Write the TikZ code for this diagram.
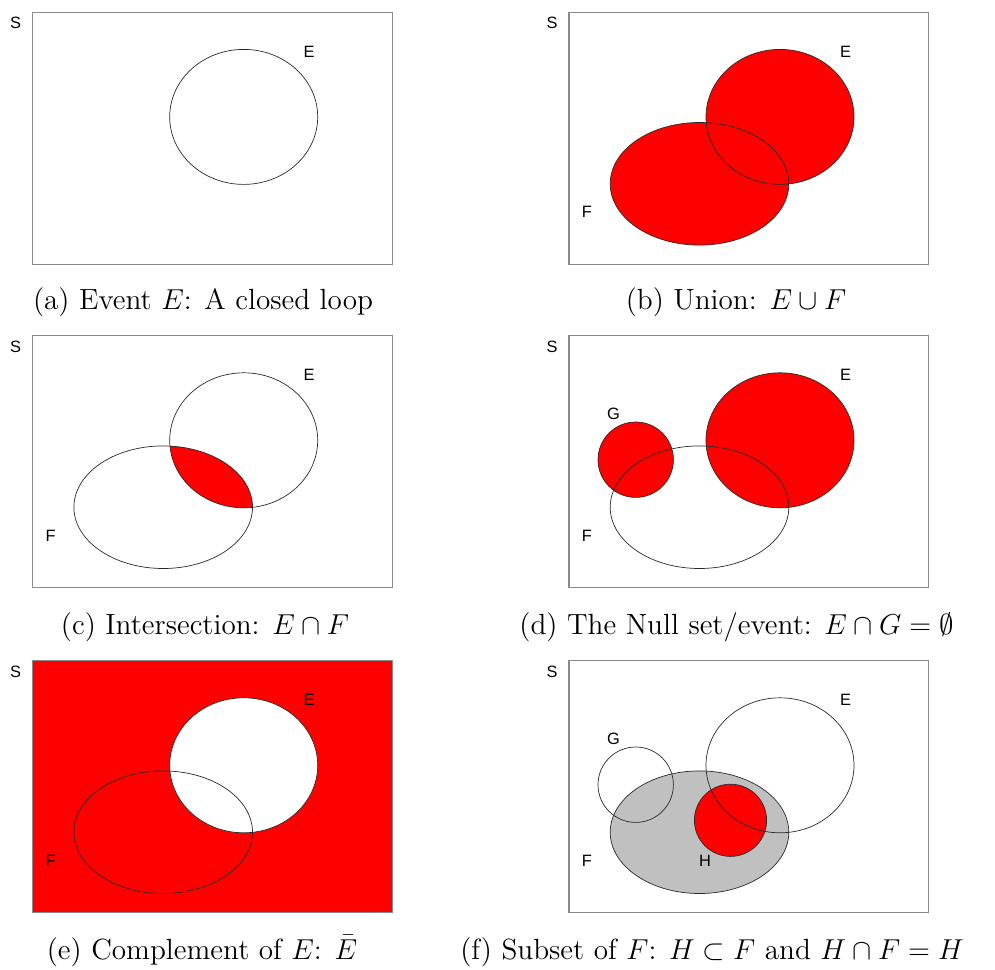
\documentclass[tikz,border=0pt]{standalone}
\usepackage{fontspec}
\usepackage{amsmath,amssymb}
\usepackage{xcolor}
\usepackage{tikz}
\newfontfamily\labelfont{Liberation Sans}
\definecolor{setred}{HTML}{FF0000}
\definecolor{silverfill}{HTML}{C0C0C0}
\definecolor{framegray}{HTML}{8A8A8A}
\definecolor{loopink}{HTML}{2A2A2A}
% event shapes, in panel coordinates (origin = top left corner of S)
\newcommand{\shapeS}{(0,0) rectangle (359.5,252)}
\newcommand{\shapeE}{(211,104.6) ellipse [x radius=74, y radius=67.5]}
\newcommand{\shapeF}{(130.5,171.5) ellipse [x radius=89.3, y radius=61.3]}
\newcommand{\shapeG}{(66.7,124) circle [radius=37.7]}
\newcommand{\shapeH}{(161.5,159.6) circle [radius=36.1]}
\tikzset{
  samplespace/.style={draw=framegray, line width=0.6pt},
  eventline/.style={draw=loopink, line width=0.35pt},
  eventfill/.style={fill=setred},
  subsetfill/.style={fill=silverfill},
  setlabel/.style={font=\labelfont\fontsize{8.2}{9}\selectfont, text=black, inner sep=0pt},
  subcap/.style={font=\fontsize{14.6}{17}\selectfont, text=black, inner sep=0pt, anchor=base}
}

\begin{document}
\begin{tikzpicture}[x=0.5pt, y=-0.5pt]
  \useasboundingbox (0,0) rectangle (995,969);

  % (a) event E
  \begin{scope}[shift={(32.7,12.3)}]
    \draw[eventline] \shapeE;
    \draw[samplespace] \shapeS;
    \node[setlabel] (Sa) at (-17,11) {S};
    \node[setlabel] (Ea) at (276.5,39.5) {E};
  \end{scope}
  \node[subcap] (capa) at (203,309) {(a) Event $E$: A closed loop};

  % (b) union
  \begin{scope}[shift={(569,12.3)}]
    \fill[eventfill] \shapeE;
    \fill[eventfill] \shapeF;
    \draw[eventline] \shapeE;
    \draw[eventline] \shapeF;
    \draw[samplespace] \shapeS;
    \node[setlabel] (Sb) at (-17,11) {S};
    \node[setlabel] (Eb) at (276.5,39.5) {E};
    \node[setlabel] (Fb) at (18,200) {F};
  \end{scope}
  \node[subcap] (capb) at (736,309) {(b) Union: $E\cup F$};

  % (c) intersection
  \begin{scope}[shift={(32.7,335.7)}]
    \begin{scope}
      \clip \shapeE;
      \fill[eventfill] \shapeF;
    \end{scope}
    \draw[eventline] \shapeE;
    \draw[eventline] \shapeF;
    \draw[samplespace] \shapeS;
    \node[setlabel] (Sc) at (-17,11) {S};
    \node[setlabel] (Ec) at (276.5,39.5) {E};
    \node[setlabel] (Fc) at (18,200) {F};
  \end{scope}
  \node[subcap] (capc) at (205,634) {(c) Intersection: $E\cap F$};

  % (d) null set
  \begin{scope}[shift={(569,335.7)}]
    \fill[eventfill] \shapeE;
    \fill[eventfill] \shapeG;
    \draw[eventline] \shapeE;
    \draw[eventline] \shapeG;
    \draw[eventline] \shapeF;
    \draw[samplespace] \shapeS;
    \node[setlabel] (Sd) at (-17,11) {S};
    \node[setlabel] (Ed) at (276.5,39.5) {E};
    \node[setlabel] (Fd) at (18,200) {F};
    \node[setlabel] (Gd) at (44.5,78) {G};
  \end{scope}
  \node[subcap] (capd) at (736.5,634) {(d) The Null set/event: $E\cap G=\emptyset$};

  % (e) complement
  \begin{scope}[shift={(32.7,660.7)}]
    \fill[eventfill] \shapeS;
    \fill[white] \shapeE;
    \draw[eventline] \shapeE;
    \draw[eventline] \shapeF;
    \draw[samplespace] \shapeS;
    \node[setlabel] (Se) at (-17,11) {S};
    \node[setlabel] (Ee) at (276.5,39.5) {E};
    \node[setlabel] (Fe) at (18,200) {F};
  \end{scope}
  \node[subcap] (cape) at (202,959) {(e) Complement of $E$: $\bar{E}$};

  % (f) subset
  \begin{scope}[shift={(569,660.7)}]
    \fill[subsetfill] \shapeF;
    \fill[eventfill] \shapeH;
    \draw[eventline] \shapeF;
    \draw[eventline] \shapeG;
    \draw[eventline] \shapeH;
    \draw[eventline] \shapeE;
    \draw[samplespace] \shapeS;
    \node[setlabel] (Sf) at (-17,11) {S};
    \node[setlabel] (Ef) at (276.5,39.5) {E};
    \node[setlabel] (Ff) at (18,200) {F};
    \node[setlabel] (Gf) at (44.5,78) {G};
    \node[setlabel] (Hf) at (136,200) {H};
  \end{scope}
  \node[subcap] (capf) at (712,959) {(f) Subset of $F$: $H\subset F$ and $H\cap F=H$};
\end{tikzpicture}
\end{document}
